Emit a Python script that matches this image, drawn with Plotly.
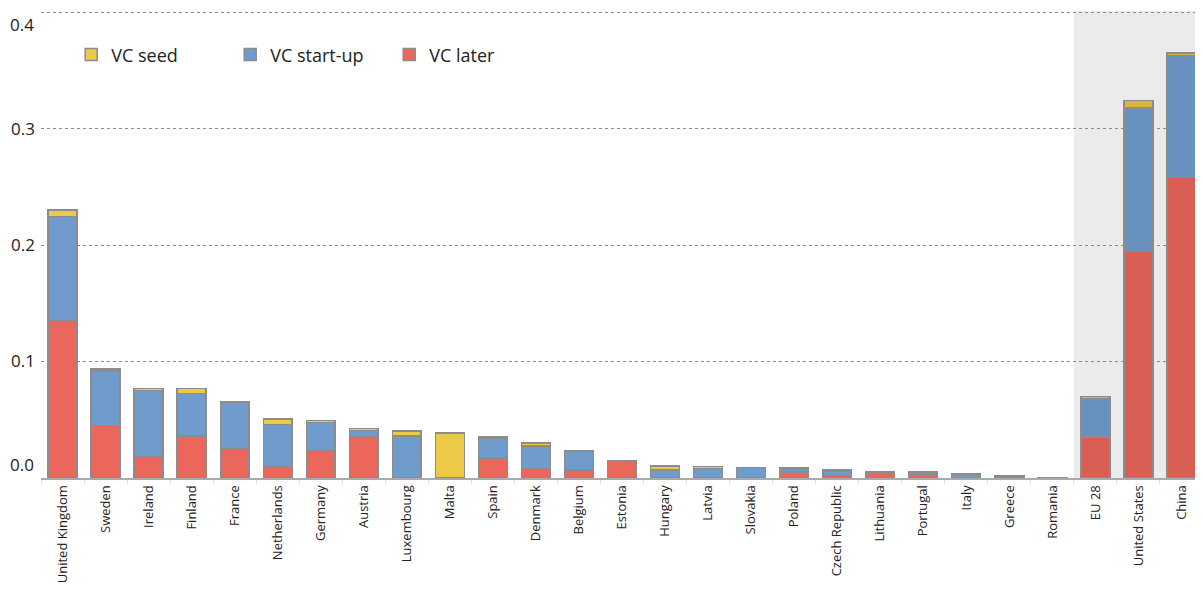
import plotly.graph_objects as go

categories = ["United Kingdom", "Sweden", "Ireland", "Finland", "France", "Netherlands",
              "Germany", "Austria", "Luxembourg", "Malta", "Spain", "Denmark", "Belgium",
              "Estonia", "Hungary", "Latvia", "Slovakia", "Poland", "Czech Republic",
              "Lithuania", "Portugal", "Italy", "Greece", "Romania", "EU 28",
              "United States", "China"]

vc_later = [0.135, 0.045, 0.018, 0.036, 0.025, 0.010, 0.023, 0.0356, 0.0, 0.0, 0.017, 0.0076,
            0.007, 0.0145, 0.0, 0.0, 0.0, 0.0053, 0.002, 0.0042, 0.0025, 0.0005, 0.0, 0.0002,
            0.035, 0.1947, 0.258]
vc_startup = [0.0897, 0.047, 0.057, 0.0366, 0.040, 0.036, 0.0245, 0.005, 0.036, 0.0, 0.0175,
              0.020, 0.0157, 0.0003, 0.0067, 0.008, 0.009, 0.002, 0.0035, 0.0008, 0.0015, 0.003,
              0.0019, 0.0001, 0.0329, 0.1231, 0.1047]
vc_seed = [0.0053, 0.0015, 0.0017, 0.0041, 0.0009, 0.0045, 0.002, 0.0017, 0.0045, 0.0385, 0.0009,
           0.0023, 0.0009, 0.0, 0.0038, 0.0017, 0.0, 0.0012, 0.0015, 0.0, 0.001, 0.0003, 0.0,
           0.0, 0.0019, 0.0062, 0.0023]

y_ticks = [0.0, 0.1, 0.2, 0.3, 0.4]
y_tick_labels = ["0.0", "0.1", "0.2", "0.3", "0.4"]

highlight = {"EU 28", "United States", "China"}

def colours(normal, dark):
    return [dark if c in highlight else normal for c in categories]

line = dict(color="#8c8c8c", width=1.5)

fig = go.Figure()
fig.add_trace(go.Bar(name="VC later", x=categories, y=vc_later,
                     marker=dict(color=colours("#eb665b", "#d95e54"), line=line)))
fig.add_trace(go.Bar(name="VC start-up", x=categories, y=vc_startup,
                     marker=dict(color=colours("#6f9ccc", "#6792bf"), line=line)))
fig.add_trace(go.Bar(name="VC seed", x=categories, y=vc_seed,
                     marker=dict(color=colours("#ecc947", "#d9b63f"), line=line)))

fig.add_shape(type="rect", xref="x", yref="paper", x0=23.5, x1=26.5, y0=0, y1=1,
              fillcolor="#ebebeb", line=dict(width=0), layer="below")

# middle tick labels drawn by the axis; end labels placed inside the plot band like the original
mid_text = ["" if i in (0, len(y_ticks) - 1) else t for i, t in enumerate(y_tick_labels)]
fig.add_annotation(x=0, xref="paper", y=y_ticks[-1], yref="y", text=y_tick_labels[-1],
                   showarrow=False, xanchor="right", yanchor="top", xshift=-5, yshift=1,
                   font=dict(size=17, color="#222222"))
fig.add_annotation(x=0, xref="paper", y=y_ticks[0], yref="y", text=y_tick_labels[0],
                   showarrow=False, xanchor="right", yanchor="bottom", xshift=-5, yshift=0,
                   font=dict(size=17, color="#222222"))

fig.update_layout(
    barmode="stack",
    bargap=0.33,
    width=1195, height=582,
    margin=dict(l=33, r=0, t=3, b=112),
    paper_bgcolor="white", plot_bgcolor="white",
    font=dict(family="Open Sans", color="#222222"),
    legend=dict(orientation="h", x=0.026, y=0.906, xanchor="left", yanchor="middle",
                traceorder="reversed", font=dict(size=18),
                entrywidth=114, entrywidthmode="pixels", bgcolor="rgba(0,0,0,0)"),
    xaxis=dict(type="category", range=[-0.5, 26.5], tickangle=-90,
               tickfont=dict(size=13), showline=True, linecolor="#aaaaaa", linewidth=2,
               ticks="outside", tickson="boundaries", ticklen=4, tickcolor="#dddddd",
               showgrid=False),
    yaxis=dict(range=[0, 0.401], tickvals=y_ticks, ticktext=mid_text,
               tickfont=dict(size=17), showgrid=True, gridcolor="#8a8a8a", griddash="dot",
               gridwidth=1, zeroline=False, ticks="", showline=False,
               ticklabelstandoff=5, automargin=False),
)

fig.write_html("out.html")
